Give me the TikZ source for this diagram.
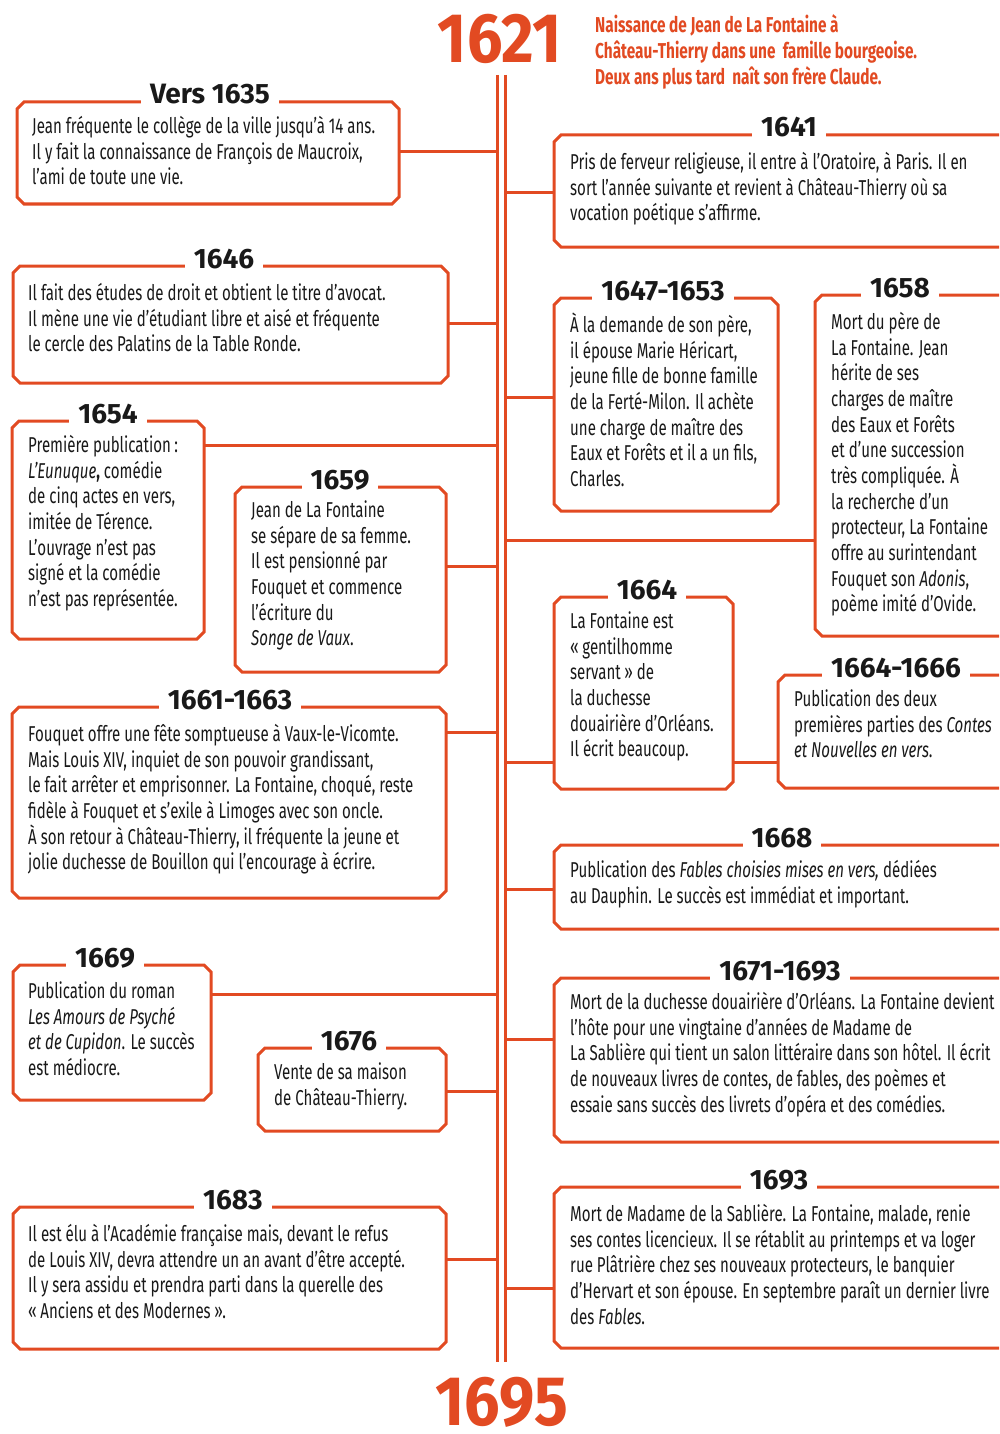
\documentclass[tikz,border=0pt]{standalone}
\usepackage{fontspec}
\newfontfamily\bodyfont[FakeStretch=0.7]{Fira Sans}
\newfontfamily\introfont[FakeStretch=0.715]{Fira Sans}
\newfontfamily\yearfont[FakeStretch=1.0]{Fira Sans}
\newfontfamily\bigfont[FakeStretch=0.9]{Fira Sans}
\definecolor{tlorange}{RGB}{226,74,34}
\definecolor{ink}{RGB}{25,25,25}
\newcommand\lns[1]{{\bodyfont\fontsize{21.5}{25.65}\selectfont\lineskiplimit=-100pt\relax\vtop{\halign{##\hfil\cr#1\crcr}}}}
\newcommand\introlns[1]{{\introfont\bfseries\fontsize{21.5}{25.65}\selectfont\lineskiplimit=-100pt\relax\vtop{\halign{##\hfil\cr#1\crcr}}}}
\tikzset{
  boxline/.style={draw=tlorange, line width=3pt, line join=miter},
  conn/.style={draw=tlorange, line width=3pt},
  tline/.style={draw=tlorange, line width=3pt},
  area/.style={inner sep=0pt, outer sep=0pt, draw=none},
  ytitle/.style={fill=white, inner xsep=9pt, inner ysep=3pt, anchor=base, text=ink,
    font=\yearfont\bfseries\fontsize{28}{30}\selectfont},
  body/.style={anchor=base west, inner sep=0pt, text=ink},
  bigyear/.style={anchor=base, inner sep=0pt, text=tlorange,
    font=\bigfont\bfseries\fontsize{70}{70}\selectfont},
}
\newcommand\fullbox[7]{%
  \node[area, minimum width={(#4)-(#2)}, minimum height={(#5)-(#3)}, anchor=north west] (#1) at (#2,#3) {};
  \draw[boxline] (#2+7,#3) -- (#4-7,#3) -- (#4,#3+7) -- (#4,#5-7) -- (#4-7,#5) -- (#2+7,#5) -- (#2,#5-7) -- (#2,#3+7) -- cycle;
  \node[ytitle] (#1t) at (#7,#3+2) {#6};
}
\newcommand\openbox[6]{%
  \node[area, minimum width={1010-(#2)}, minimum height={(#4)-(#3)}, anchor=north west] (#1) at (#2,#3) {};
  \draw[boxline] (1010,#3) -- (#2+7,#3) -- (#2,#3+7) -- (#2,#4-7) -- (#2+7,#4) -- (1010,#4);
  \node[ytitle] (#1t) at (#6,#3+2) {#5};
}
\begin{document}
\begin{tikzpicture}[x=1pt,y=-1pt]
\useasboundingbox (0,0) rectangle (999,1434);
\clip (0,0) rectangle (999,1434);
\fill[white] (0,0) rectangle (999,1434);

% timeline
\coordinate (tlLa) at (497,75);
\coordinate (tlLb) at (497,1362);
\coordinate (tlRa) at (505,75);
\coordinate (tlRb) at (505,1362);
\draw[tline] (tlLa) -- (tlLb);
\draw[tline] (tlRa) -- (tlRb);

% big years
\node[bigyear] (y1621) at (500,63) {1621};
\node[bigyear] (y1695) at (502,1425) {1695};
\node[anchor=base west, inner sep=0pt, text=tlorange] (intro) at (595,33) {\introlns{%
Naissance de Jean de La Fontaine à\cr
Château-Thierry dans une~ famille bourgeoise.\cr
Deux ans plus tard~ naît son frère Claude.}};

% ---------- left boxes ----------
\fullbox{L1}{17}{102}{399}{204}{Vers 1635}{210}
\node[body] (L1x) at (32,133.5) {\lns{%
Jean fréquente le collège de la ville jusqu’à 14 ans.\cr
Il y fait la connaissance de François de Maucroix,\cr
l’ami de toute une vie.}};

\fullbox{L2}{13}{266}{448}{383}{1646}{224}
\node[body] (L2x) at (28,300.5) {\lns{%
Il fait des études de droit et obtient le titre d’avocat.\cr
Il mène une vie d’étudiant libre et aisé et fréquente\cr
le cercle des Palatins de la Table Ronde.}};

\fullbox{L3}{12}{421}{204}{639}{1654}{108}
\node[body] (L3x) at (28,452.5) {\lns{%
Première publication\,:\cr
\textit{L’Eunuque}\textbf{,} comédie\cr
de cinq actes en vers,\cr
imitée de Térence.\cr
L’ouvrage n’est pas\cr
signé et la comédie\cr
n’est pas représentée.}};

\fullbox{L4}{235}{487}{446}{672}{1659}{340}
\node[body] (L4x) at (251,517.5) {\lns{%
Jean de La Fontaine\cr
se sépare de sa femme.\cr
Il est pensionné par\cr
Fouquet et commence\cr
l’écriture du\cr
\textit{Songe de Vaux}.}};

\fullbox{L5}{12}{707}{446}{898}{1661-1663}{230}
\node[body] (L5x) at (28,741.5) {\lns{%
Fouquet offre une fête somptueuse à Vaux-le-Vicomte.\cr
Mais Louis XIV, inquiet de son pouvoir grandissant,\cr
le fait arrêter et emprisonner. La Fontaine, choqué, reste\cr
fidèle à Fouquet et s’exile à Limoges avec son oncle.\cr
À son retour à Château-Thierry, il fréquente la jeune et\cr
jolie duchesse de Bouillon qui l’encourage à écrire.}};

\fullbox{L6}{13}{965}{211}{1100}{1669}{105}
\node[body] (L6x) at (28,998.5) {\lns{%
Publication du roman\cr
\textit{Les Amours de Psyché}\cr
\textit{et de Cupidon}. Le succès\cr
est médiocre.}};

\fullbox{L7}{258}{1048}{446}{1131}{1676}{349}
\node[body] (L7x) at (274,1079.5) {\lns{%
Vente de sa maison\cr
de Château-Thierry.}};

\fullbox{L8}{13}{1207}{446}{1349}{1683}{233}
\node[body] (L8x) at (28,1241.5) {\lns{%
Il est élu à l’Académie française mais, devant le refus\cr
de Louis XIV, devra attendre un an avant d’être accepté.\cr
Il y sera assidu et prendra parti dans la querelle des\cr
«\,Anciens et des Modernes\,».}};

% ---------- right boxes ----------
\openbox{R1}{554}{135}{247}{1641}{789}
\node[body] (R1x) at (570,169.5) {\lns{%
Pris de ferveur religieuse, il entre à l’Oratoire, à Paris. Il en\cr
sort l’année suivante et revient à Château-Thierry où sa\cr
vocation poétique s’affirme.}};

\fullbox{R2}{554}{298}{778}{511}{1647-1653}{663}
\node[body] (R2x) at (570,332.5) {\lns{%
À la demande de son père,\cr
il épouse Marie Héricart,\cr
jeune fille de bonne famille\cr
de la Ferté-Milon. Il achète\cr
une charge de maître des\cr
Eaux et Forêts et il a un fils,\cr
Charles.}};

\openbox{R3}{815}{295}{636}{1658}{900}
\node[body] (R3x) at (831,329.5) {\lns{%
Mort du père de\cr
La Fontaine. Jean\cr
hérite de ses\cr
charges de maître\cr
des Eaux et Forêts\cr
et d’une succession\cr
très compliquée. À\cr
la recherche d’un\cr
protecteur, La Fontaine\cr
offre au surintendant\cr
Fouquet son \textit{Adonis},\cr
poème imité d’Ovide.}};

\fullbox{R4}{554}{597}{733}{789}{1664}{647}
\node[body] (R4x) at (570,628.5) {\lns{%
La Fontaine est\cr
«\,gentilhomme\cr
servant\,» de\cr
la duchesse\cr
douairière d’Orléans.\cr
Il écrit beaucoup.}};

\openbox{R5}{778}{675}{788}{1664-1666}{896}
\node[body] (R5x) at (794,706.5) {\lns{%
Publication des deux\cr
premières parties des \textit{Contes}\cr
\textit{et Nouvelles en vers}.}};

\openbox{R6}{554}{845}{929}{1668}{782}
\node[body] (R6x) at (570,877.5) {\lns{%
Publication des \textit{Fables choisies mises en vers,} dédiées\cr
au Dauphin. Le succès est immédiat et important.}};

\openbox{R7}{554}{978}{1142}{1671-1693}{780}
\node[body] (R7x) at (570,1009.5) {\lns{%
Mort de la duchesse douairière d’Orléans. La Fontaine devient\cr
l’hôte pour une vingtaine d’années de Madame de\cr
La Sablière qui tient un salon littéraire dans son hôtel. Il écrit\cr
de nouveaux livres de contes, de fables, des poèmes et\cr
essaie sans succès des livrets d’opéra et des comédies.}};

\openbox{R8}{554}{1187}{1348}{1693}{779}
\node[body] (R8x) at (570,1221.5) {\lns{%
Mort de Madame de la Sablière. La Fontaine, malade, renie\cr
ses contes licencieux. Il se rétablit au printemps et va loger\cr
rue Plâtrière chez ses nouveaux protecteurs, le banquier\cr
d’Hervart et son épouse. En septembre paraît un dernier livre\cr
des \textit{Fables}.}};

% ---------- connectors ----------
\coordinate (cL1) at (497,152);
\coordinate (cL2) at (497,323);
\coordinate (cL3) at (497,445);
\coordinate (cL4) at (497,566);
\coordinate (cL5) at (497,732);
\coordinate (cL6) at (497,994);
\coordinate (cL7) at (497,1091);
\coordinate (cL8) at (497,1259);
\coordinate (cR1) at (505,193);
\coordinate (cR2) at (505,397);
\coordinate (cR3) at (505,540);
\coordinate (cR4) at (505,762);
\coordinate (cR6) at (505,889);
\coordinate (cR7) at (505,1039);
\coordinate (cR8) at (505,1288);
\foreach \b in {1,...,8} {\draw[conn] (L\b.east |- cL\b) -- (cL\b);}
\foreach \b in {1,2,3,4,6,7,8} {\draw[conn] (cR\b) -- (R\b.west |- cR\b);}
\draw[conn] (R4.east |- cR4) -- (R5.west |- cR4);
\end{tikzpicture}
\end{document}
